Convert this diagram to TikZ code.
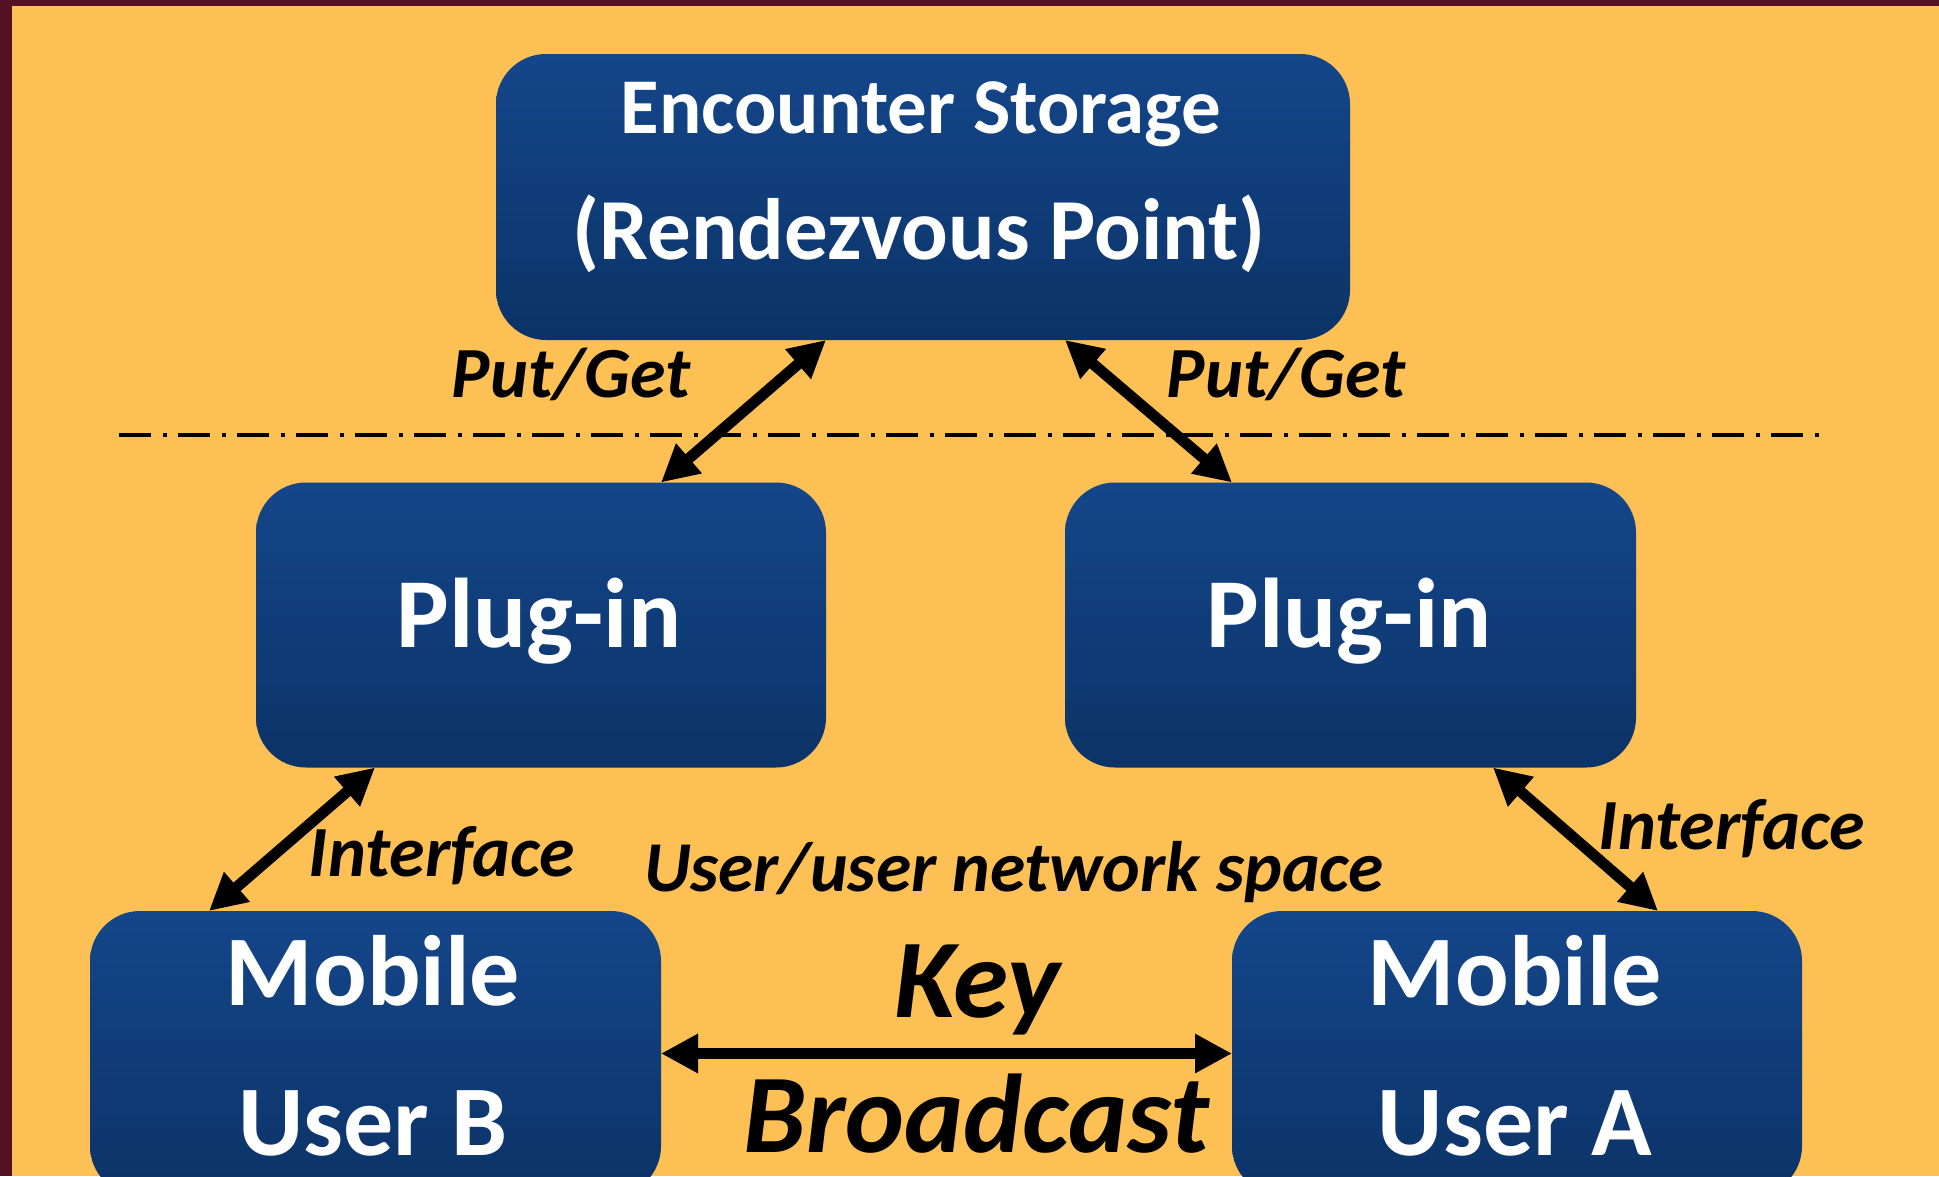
\documentclass[tikz,border=0pt]{standalone}
\usepackage{fontspec}
\setmainfont{Carlito}
\usetikzlibrary{arrows.meta}
\definecolor{bgorange}{RGB}{252,192,85}
\definecolor{framemaroon}{RGB}{84,17,36}
\definecolor{boxtop}{RGB}{20,70,138}
\definecolor{boxbot}{RGB}{12,51,103}
\begin{document}
\begin{tikzpicture}[x=1pt,y=-1pt,
  bluebox/.style={rounded corners=50pt, top color=boxtop, bottom color=boxbot,
    draw=none, minimum width=#1, minimum height=285pt, inner sep=0pt, outer sep=0pt},
  boxtext/.style={text=white, anchor=base, inner sep=0pt, font=\bfseries\fontsize{#1}{#1}\selectfont},
  lbltext/.style={text=black, anchor=base, inner sep=0pt, font=\bfseries\itshape\fontsize{#1}{#1}\selectfont},
  dblarrow/.style={line width=11pt, {Triangle[length=37pt,width=37pt]}-{Triangle[length=37pt,width=37pt]}}
]
\useasboundingbox (0,0) rectangle (1939,1176);
\clip (0,0) rectangle (1939,1176);
\fill[bgorange] (0,0) rectangle (1939,1176);
\fill[framemaroon] (0,0) rectangle (1939,6);
\fill[framemaroon] (0,0) rectangle (12,1176);

% boxes
\node[bluebox=854pt, minimum height=286pt] (store) at (923,197) {};
\node[bluebox=570pt] (plugL) at (541,625) {};
\node[bluebox=571pt] (plugR) at (1350.5,625) {};
\node[bluebox=571pt] (mobB) at (375.5,1053.5) {};
\node[bluebox=570pt] (mobA) at (1517,1053.5) {};

% box texts
\node[boxtext=79] (t1) at (921,133) {Encounter Storage};
\node[boxtext=87] (t2) at (919,259) {(Rendezvous Point)};
\node[boxtext=99] (t3) at (539,647) {Plug-in};
\node[boxtext=99] (t4) at (1349,647) {Plug-in};
\node[boxtext=100] (t5) at (373,1005) {Mobile};
\node[boxtext=100] (t6) at (373,1155) {User B};
\node[boxtext=100] (t7) at (1515,1005) {Mobile};
\node[boxtext=100] (t8) at (1515,1155) {User A};

% labels
\node[lbltext=72] (pg1) at (571,397) {Put/Get};
\node[lbltext=72] (pg2) at (1286,397) {Put/Get};
\node[lbltext=72] (if1) at (442,876) {Interface};
\node[lbltext=72] (if2) at (1732,849) {Interface};
\node[lbltext=71.5] (uu) at (1014,891) {User/user network space};
\node[lbltext=112] (key) at (977,1017) {Key};
\node[lbltext=112] (bc) at (976,1152) {Broadcast};

% separator line
\coordinate (sepL) at (119,435);
\coordinate (sepR) at (1822,435);
\draw[line width=4pt, dash pattern=on 32pt off 12pt on 4pt off 11pt] (sepL) -- (sepR);

% connectors
\draw[dblarrow] ([xshift=330pt]store.south west) -- ([xshift=-165pt]plugL.north east);
\draw[dblarrow] ([xshift=-285pt]store.south east) -- ([xshift=167pt]plugR.north west);
\draw[dblarrow] ([xshift=119pt]plugL.south west) -- ([xshift=119pt]mobB.north west);
\draw[dblarrow] ([xshift=-143pt]plugR.south east) -- ([xshift=-144pt]mobA.north east);
\draw[dblarrow] (mobB.east) -- (mobA.west);
\end{tikzpicture}
\end{document}
